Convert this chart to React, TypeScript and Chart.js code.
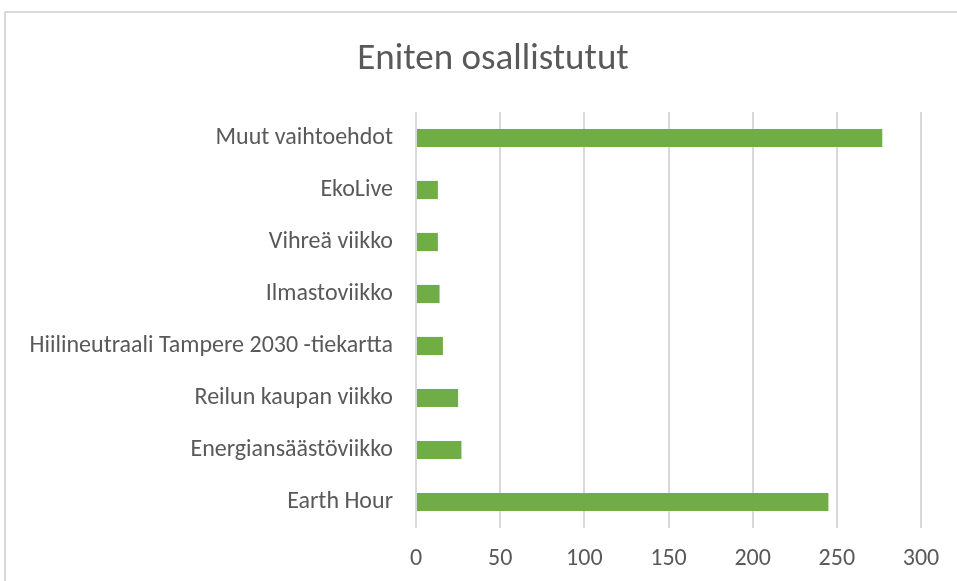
import React, { useEffect, useRef } from "react";
import { Chart, registerables } from "chart.js";

Chart.register(...registerables);

const title = "Eniten osallistutut";
const categories = [
  "Muut vaihtoehdot",
  "EkoLive",
  "Vihreä viikko",
  "Ilmastoviikko",
  "Hiilineutraali Tampere 2030 -tiekartta",
  "Reilun kaupan viikko",
  "Energiansäästöviikko",
  "Earth Hour",
];
const values = [277, 13, 13, 14, 16, 25, 27, 245];
const xMin = 0;
const xMax = 300;
const xStep = 50;

const FONT = "Carlito, 'Open Sans', 'Noto Sans', sans-serif";
const TEXT = "#595959";

const titlePlugin = {
  id: "fixedTitle",
  afterDraw(chart: any) {
    const ctx = chart.ctx;
    ctx.save();
    ctx.fillStyle = TEXT;
    ctx.font = `normal 37px ${FONT}`;
    ctx.textAlign = "center";
    ctx.textBaseline = "alphabetic";
    ctx.fillText(title, 493, 69);
    ctx.restore();
  },
};

export default function App() {
  const ref = useRef<HTMLCanvasElement | null>(null);
  useEffect(() => {
    document.body.style.margin = "0";
    const chart = new Chart(ref.current!, {
      type: "bar",
      data: {
        labels: categories,
        datasets: [
          {
            data: values,
            backgroundColor: "#70AD47",
            borderWidth: 0,
            categoryPercentage: 1,
            barPercentage: 0.35,
          },
        ],
      },
      options: {
        indexAxis: "y",
        responsive: false,
        animation: false,
        layout: { padding: { left: 0, right: 36, top: 112, bottom: 0 } },
        plugins: {
          legend: { display: false },
          tooltip: { enabled: false },
          title: { display: false },
        },
        scales: {
          x: {
            min: xMin,
            max: xMax,
            ticks: {
              stepSize: xStep,
              color: TEXT,
              font: { family: FONT, size: 24 },
              padding: 17,
            },
            grid: { color: "#D9D9D9", lineWidth: 2, drawTicks: false },
            border: { display: false },
            afterFit: (s: any) => {
              s.height = 53;
            },
          },
          y: {
            ticks: {
              color: TEXT,
              font: { family: FONT, size: 24 },
              padding: 23,
              autoSkip: false,
            },
            grid: { display: false, drawTicks: false },
            border: { display: false },
            afterFit: (s: any) => {
              s.width = 416;
            },
          },
        },
      },
      plugins: [titlePlugin],
    });
    return () => chart.destroy();
  }, []);
  return (
    <div style={{ position: "fixed", left: 0, top: 0, width: 957, height: 581, overflow: "hidden", background: "#fff" }}>
      <div style={{ position: "absolute", left: 4, top: 11, width: 1200, height: 1200, border: "2px solid #D9D9D9" }} />
      <canvas ref={ref} width={957} height={581} style={{ position: "absolute", left: 0, top: 0 }} />
    </div>
  );
}
